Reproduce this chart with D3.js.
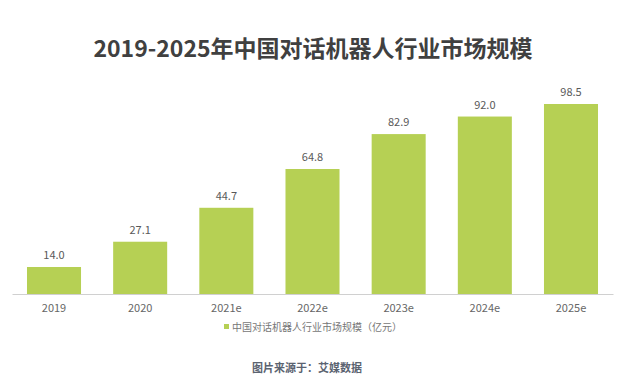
<!DOCTYPE html>
<html><head><meta charset="utf-8">
<script src="https://cdn.jsdelivr.net/npm/d3@7"></script>
<style>body{margin:0;background:#fff;}svg{display:block;}</style>
</head><body>
<svg id="c" width="617" height="390"></svg>
<script>
const categories = ["2019","2020","2021e","2022e","2023e","2024e","2025e"];
const values = [14.0, 27.1, 44.7, 64.8, 82.9, 92.0, 98.5];
const valueLabels = ["14.0","27.1","44.7","64.8","82.9","92.0","98.5"];
const seriesName = "中国对话机器人行业市场规模（亿元）";
const title = "2019-2025年中国对话机器人行业市场规模";
const source = "图片来源于：艾媒数据";

const svg = d3.select("#c");
const font = "'Noto Sans CJK SC','Noto Sans',sans-serif";
const barColor = "#b6d054";

const x = d3.scaleBand().domain(categories).range([12, 613]).paddingInner(0.373).paddingOuter(0.174);
const y = d3.scaleLinear().domain([0, 98.5]).range([294, 104]);

svg.append("text").attr("x", 313).attr("y", 57).attr("text-anchor", "middle")
  .attr("font-family", font).attr("font-weight", "bold").attr("font-size", 23)
  .attr("fill", "#404040").text(title);

svg.selectAll("rect.bar").data(values).enter().append("rect").attr("class","bar")
  .attr("x", (d,i) => x(categories[i])).attr("width", x.bandwidth())
  .attr("y", d => y(d)).attr("height", d => y(0) - y(d)).attr("fill", barColor);

svg.selectAll("text.val").data(values).enter().append("text").attr("class","val")
  .attr("x", (d,i) => x(categories[i]) + x.bandwidth()/2).attr("y", d => y(d) - 8)
  .attr("text-anchor","middle").attr("font-family", font).attr("font-size", 11)
  .attr("fill", "#595959").text((d,i) => valueLabels[i]);

const ax = svg.append("g").attr("transform", `translate(0,${y(0)})`)
  .call(d3.axisBottom(x).tickSize(0).tickPadding(10));
ax.select(".domain").attr("stroke", "#d0d0d0");
ax.selectAll("text").attr("font-family", font).attr("font-size", 11).attr("fill", "#666");

const lg = svg.append("g");
lg.append("rect").attr("x", 224).attr("y", 324).attr("width", 5).attr("height", 5).attr("fill", barColor);
lg.append("text").attr("x", 232).attr("y", 331).attr("font-family", font).attr("font-size", 10)
  .attr("fill", "#777").text(seriesName);

svg.append("text").attr("x", 307).attr("y", 372).attr("text-anchor","middle")
  .attr("font-family", font).attr("font-weight","bold").attr("font-size", 11)
  .attr("fill", "#5b6371").text(source);
</script>
</body></html>
